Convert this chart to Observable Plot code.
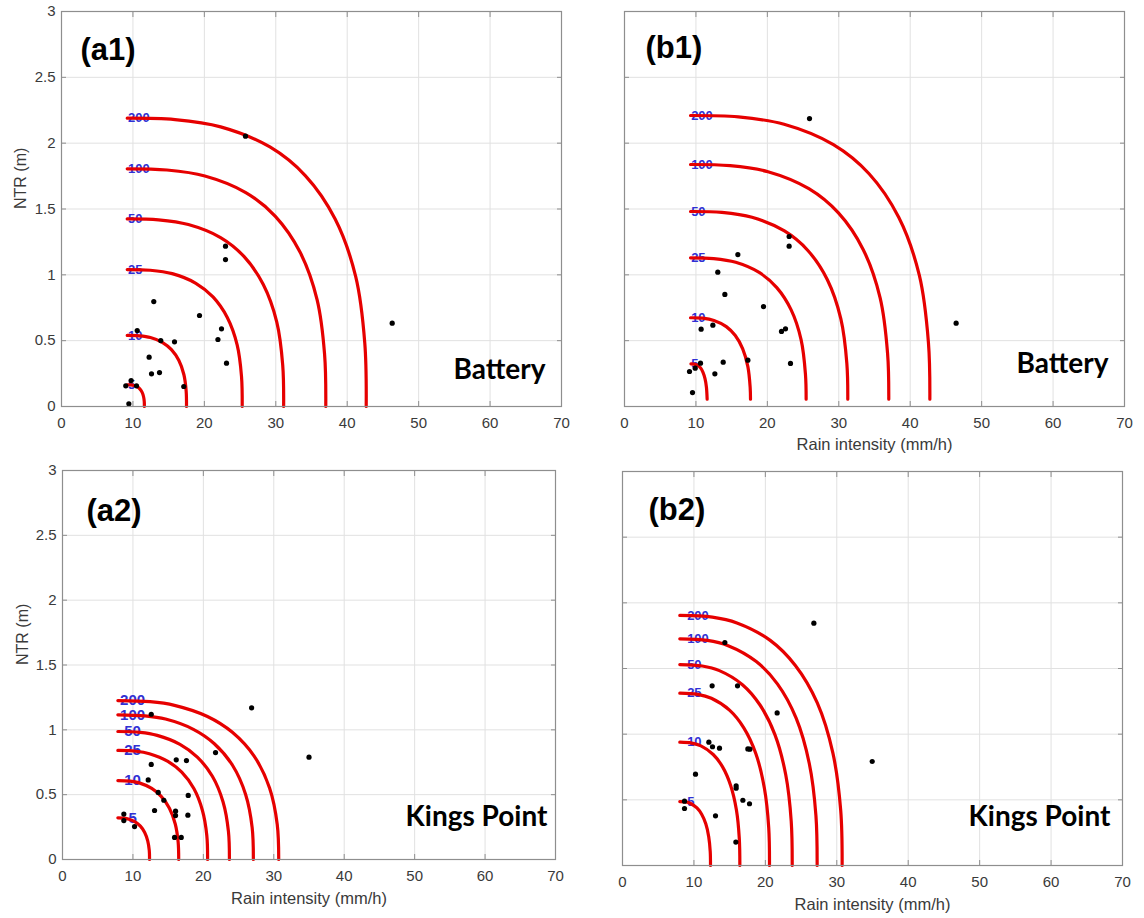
<!DOCTYPE html>
<html><head><meta charset="utf-8">
<script src="https://cdn.jsdelivr.net/npm/d3@7"></script>
<script src="https://cdn.jsdelivr.net/npm/@observablehq/plot@0.6"></script>
<style>
body{margin:0;background:#fff;}
#wrap{position:relative;width:1144px;height:918px;background:#fff;overflow:hidden;}
.p{position:absolute;}
</style></head><body><div id="wrap"></div>
<script>
// ---------- shared ticks / categories ----------
const xTicks = [0, 10, 20, 30, 40, 50, 60, 70];
const yTicks = [0, 0.5, 1, 1.5, 2, 2.5, 3];
const yTickLabels = ["0", "0.5", "1", "1.5", "2", "2.5", "3"];
const periods = ["5", "10", "25", "50", "100", "200"];
const xTitle = "Rain intensity (mm/h)";
const yTitle = "NTR (m)";

// ---------- (a1) Battery ----------
const a1CurveX = [
  [9.2, 9.68, 10.14, 10.63, 10.99, 11.29, 11.49, 11.59, 11.6],
  [9.2, 10.86, 12.45, 14.16, 15.39, 16.42, 17.13, 17.45, 17.5],
  [9.2, 12.42, 15.5, 18.81, 21.21, 23.21, 24.59, 25.2, 25.3],
  [9.2, 13.58, 17.76, 22.27, 25.54, 28.25, 30.14, 30.97, 31.1],
  [9.2, 14.76, 20.07, 25.8, 29.94, 33.39, 35.78, 36.83, 37.0],
  [9.2, 15.89, 22.28, 29.18, 34.16, 38.31, 41.19, 42.46, 42.66]
];
const a1CurveY = [
  [0.165, 0.164, 0.160, 0.149, 0.132, 0.107, 0.074, 0.036, 0],
  [0.54, 0.537, 0.524, 0.486, 0.432, 0.351, 0.243, 0.119, 0],
  [1.04, 1.035, 1.009, 0.936, 0.832, 0.676, 0.468, 0.229, 0],
  [1.425, 1.418, 1.382, 1.283, 1.14, 0.926, 0.641, 0.314, 0],
  [1.805, 1.796, 1.751, 1.625, 1.444, 1.173, 0.812, 0.397, 0],
  [2.19, 2.179, 2.124, 1.971, 1.752, 1.424, 0.986, 0.482, 0]
];
const a1DotX = [25.76, 22.96, 22.96, 12.92, 19.32, 10.6, 22.4, 21.9, 13.9, 15.82, 12.27, 23.1, 12.6, 13.72, 9.75, 9.0, 10.5, 17.12, 9.43, 46.3];
const a1DotY = [2.053, 1.218, 1.116, 0.797, 0.691, 0.577, 0.59, 0.509, 0.501, 0.491, 0.375, 0.329, 0.248, 0.258, 0.197, 0.157, 0.157, 0.152, 0.02, 0.633];

// ---------- (b1) Battery ----------
const b1CurveX = [
  [9.3, 9.75, 10.19, 10.66, 10.99, 11.27, 11.47, 11.57],
  [9.24, 10.92, 12.52, 14.25, 15.51, 16.55, 17.27, 17.59, 17.64],
  [9.24, 12.48, 15.57, 18.91, 21.32, 23.33, 24.72, 25.33, 25.43],
  [9.24, 13.64, 17.85, 22.39, 25.67, 28.40, 30.29, 31.13, 31.26],
  [9.24, 14.79, 20.09, 25.81, 29.95, 33.39, 35.78, 36.83, 37.0],
  [9.24, 15.94, 22.34, 29.25, 34.24, 38.39, 41.28, 42.55, 42.75]
];
const b1CurveY = [
  [0.324, 0.322, 0.314, 0.292, 0.259, 0.211, 0.146, 0.055],
  [0.674, 0.671, 0.654, 0.607, 0.539, 0.438, 0.303, 0.148, 0.055],
  [1.129, 1.123, 1.095, 1.016, 0.903, 0.734, 0.508, 0.248, 0.055],
  [1.481, 1.474, 1.437, 1.333, 1.185, 0.963, 0.666, 0.326, 0.055],
  [1.838, 1.829, 1.783, 1.654, 1.470, 1.195, 0.827, 0.404, 0.055],
  [2.21, 2.199, 2.144, 1.989, 1.768, 1.437, 0.995, 0.486, 0.055]
];
const b1DotX = [25.9, 23.05, 23.05, 15.87, 13.06, 14.05, 19.46, 12.37, 10.73, 22.54, 21.98, 17.27, 13.82, 10.64, 23.24, 9.9, 9.1, 12.65, 9.52, 46.43];
const b1DotY = [2.187, 1.291, 1.218, 1.154, 1.02, 0.851, 0.759, 0.618, 0.587, 0.59, 0.57, 0.352, 0.337, 0.329, 0.327, 0.291, 0.266, 0.248, 0.106, 0.633];

// ---------- (a2) Kings Point ----------
const a2CurveX = [
  [7.86, 8.76, 9.44, 10.37, 11.06, 11.67, 12.10, 12.32, 12.36],
  [7.86, 9.59, 10.90, 12.67, 14.01, 15.18, 16.01, 16.42, 16.5],
  [7.86, 10.41, 12.34, 14.96, 16.93, 18.65, 19.87, 20.49, 20.6],
  [7.86, 11.03, 13.44, 16.68, 19.14, 21.28, 22.80, 23.56, 23.7],
  [7.86, 11.71, 14.63, 18.58, 21.56, 24.16, 26.0, 26.93, 27.1],
  [7.86, 12.43, 15.90, 20.58, 24.12, 27.21, 29.40, 30.49, 30.7]
];
const a2CurveY = [
  [0.321, 0.319, 0.311, 0.289, 0.257, 0.209, 0.144, 0.071, 0],
  [0.609, 0.605, 0.591, 0.548, 0.487, 0.396, 0.274, 0.134, 0],
  [0.841, 0.835, 0.816, 0.757, 0.673, 0.547, 0.378, 0.185, 0],
  [0.987, 0.980, 0.957, 0.888, 0.790, 0.642, 0.444, 0.217, 0],
  [1.116, 1.108, 1.083, 1.004, 0.893, 0.725, 0.502, 0.246, 0],
  [1.226, 1.217, 1.189, 1.103, 0.981, 0.797, 0.552, 0.270, 0]
];
const a2DotX = [26.85, 12.6, 21.73, 16.15, 17.6, 12.6, 12.17, 13.59, 14.39, 17.85, 13.07, 16.05, 16.05, 17.8, 8.71, 8.71, 10.23, 15.91, 16.86, 35.0];
const a2DotY = [1.17, 1.12, 0.825, 0.769, 0.763, 0.733, 0.614, 0.517, 0.457, 0.494, 0.378, 0.373, 0.339, 0.342, 0.35, 0.30, 0.254, 0.17, 0.17, 0.789];

// ---------- (b2) Kings Point ----------
const b2CurveX = [
  [8.02, 8.88, 9.53, 10.42, 11.08, 11.66, 12.07, 12.28, 12.32],
  [8.02, 9.70, 10.98, 12.70, 14.01, 15.14, 15.95, 16.35, 16.43],
  [8.02, 10.53, 12.44, 15.02, 16.96, 18.66, 19.86, 20.47, 20.58],
  [8.02, 11.17, 13.56, 16.79, 19.23, 21.35, 22.86, 23.62, 23.76],
  [8.02, 11.87, 14.79, 18.73, 21.71, 24.31, 26.15, 27.08, 27.25],
  [8.02, 12.57, 16.02, 20.68, 24.20, 27.27, 29.45, 30.55, 30.75]
];
const b2CurveY = [
  [0.487, 0.484, 0.472, 0.438, 0.390, 0.317, 0.219, 0.107, 0],
  [0.939, 0.932, 0.911, 0.845, 0.751, 0.610, 0.423, 0.207, 0],
  [1.312, 1.303, 1.273, 1.181, 1.050, 0.853, 0.590, 0.289, 0],
  [1.53, 1.519, 1.484, 1.377, 1.224, 0.995, 0.689, 0.337, 0],
  [1.726, 1.714, 1.674, 1.553, 1.381, 1.122, 0.777, 0.380, 0],
  [1.904, 1.891, 1.847, 1.714, 1.523, 1.238, 0.857, 0.419, 0]
];
const b2DotX = [26.79, 14.33, 12.55, 16.1, 21.65, 12.09, 12.6, 13.58, 17.55, 17.83, 10.22, 15.91, 15.91, 16.85, 17.78, 8.68, 8.68, 13.02, 15.87, 34.96];
const b2DotY = [1.845, 1.698, 1.368, 1.368, 1.162, 0.939, 0.904, 0.893, 0.888, 0.886, 0.695, 0.607, 0.589, 0.497, 0.47, 0.49, 0.434, 0.378, 0.178, 0.792];

// ---------- drawing ----------
const RED = "#e60000", BLUE = "#3030d4", GRID = "#e1e1e1", AX = "#8e8e8e", TXT = "#3a3a3a";
const FONT = "'Liberation Sans', Arial, sans-serif";

function panel(o) {
  const curves = periods.flatMap((p, i) => o.cx[i].map((x, j) => ({period: p, x, y: o.cy[i][j]})));
  const labels = periods.map((p, i) => ({period: p, x: o.labelX, y: o.cy[i][0]}));
  const dots = o.dx.map((x, i) => ({x, y: o.dy[i]}));
  const marks = [
    Plot.gridX(xTicks, {stroke: GRID, strokeOpacity: 1}),
    Plot.gridY(yTicks, {stroke: GRID, strokeOpacity: 1}),
    Plot.text(labels, {x: "x", y: "y", text: "period", textAnchor: o.labelAnchor, lineAnchor: "middle",
      fill: BLUE, fontWeight: "bold", fontSize: o.labelSize, fontFamily: FONT}),
    Plot.line(curves, {x: "x", y: "y", z: "period", stroke: RED, strokeWidth: 3.2, curve: "catmull-rom"}),
    Plot.dot(dots, {x: "x", y: "y", r: 2.6, fill: "#000", stroke: "none"}),
    Plot.axisX(xTicks, {anchor: "bottom", tickSize: -5, tickPadding: 16, stroke: AX, fill: TXT, fontSize: 15, label: null, tickFormat: d => String(d)}),
    Plot.axisX(xTicks, {anchor: "top", tickSize: -5, tickPadding: 0, stroke: AX, label: null, tickFormat: () => ""}),
    Plot.axisY(yTicks, {anchor: "left", tickSize: -5, tickPadding: 11, stroke: AX, fill: TXT, fontSize: 15, label: null,
      tickFormat: o.showY ? (d => yTickLabels[yTicks.indexOf(d)]) : () => ""}),
    Plot.axisY(yTicks, {anchor: "right", tickSize: -5, tickPadding: 0, stroke: AX, label: null, tickFormat: () => ""}),
    Plot.frame({stroke: AX, strokeWidth: 1.2}),
    Plot.text([o.tag], {text: d => d, frameAnchor: "top-left", dx: o.tagDx, dy: o.tagDy, textAnchor: "start", lineAnchor: "middle",
      fontSize: 31, fontWeight: "bold", fontFamily: FONT, fill: "#000"}),
    Plot.text([o.site], {text: d => d, frameAnchor: "bottom-right", dx: o.siteDx, dy: o.siteDy, textAnchor: "end", lineAnchor: "bottom",
      fontSize: 28, fontWeight: "bold", fontFamily: "Lato, 'Open Sans', sans-serif", fill: "#000"})
  ];
  if (o.showY) marks.push(Plot.text([yTitle], {text: d => d, frameAnchor: "left", dx: o.yTitleDx, rotate: -90, fontSize: 16, fill: TXT, fontFamily: FONT}));
  if (o.showXTitle) marks.push(Plot.text([xTitle], {text: d => d, frameAnchor: "bottom", dy: o.xTitleDy, fontSize: 16.5, fill: TXT, fontFamily: FONT}));
  const svg = Plot.plot({
    width: o.width, height: o.height,
    marginLeft: o.ml, marginRight: o.mr, marginTop: o.mt, marginBottom: o.mb,
    x: {domain: [0, 70], label: null, axis: null},
    y: {domain: [0, 3], label: null, axis: null},
    style: {fontFamily: FONT, background: "transparent", overflow: "visible", color: TXT},
    marks
  });
  const div = document.createElement("div");
  div.className = "p";
  div.style.left = o.left + "px";
  div.style.top = o.top + "px";
  div.appendChild(svg);
  document.getElementById("wrap").appendChild(div);
}

panel({left: 0, top: 0, width: 572, height: 440, ml: 61, mr: 11, mt: 11, mb: 34,
  cx: a1CurveX, cy: a1CurveY, dx: a1DotX, dy: a1DotY, labelX: 9.3, labelAnchor: "start", labelSize: 13,
  tag: "(a1)", tagDx: 19, tagDy: 39, site: "Battery", siteDx: -16, siteDy: -28,
  showY: true, yTitleDx: -41, showXTitle: false});

panel({left: 580, top: 0, width: 564, height: 460, ml: 44, mr: 20, mt: 11, mb: 54,
  cx: b1CurveX, cy: b1CurveY, dx: b1DotX, dy: b1DotY, labelX: 9.33, labelAnchor: "start", labelSize: 13,
  tag: "(b1)", tagDx: 21, tagDy: 37, site: "Battery", siteDx: -16, siteDy: -34,
  showY: false, showXTitle: true, xTitleDy: 43});

panel({left: 0, top: 460, width: 572, height: 458, ml: 62, mr: 17, mt: 10, mb: 59,
  cx: a2CurveX, cy: a2CurveY, dx: a2DotX, dy: a2DotY, labelX: 9.95, labelAnchor: "middle", labelSize: 15,
  tag: "(a2)", tagDx: 24, tagDy: 41, site: "Kings Point", siteDx: -8, siteDy: -34,
  showY: true, yTitleDx: -40, showXTitle: true, xTitleDy: 44});

panel({left: 580, top: 460, width: 564, height: 458, ml: 42, mr: 22, mt: 11, mb: 53,
  cx: b2CurveX, cy: b2CurveY, dx: b2DotX, dy: b2DotY, labelX: 9.05, labelAnchor: "start", labelSize: 13,
  tag: "(b2)", tagDx: 26, tagDy: 39, site: "Kings Point", siteDx: -12, siteDy: -40,
  showY: false, showXTitle: true, xTitleDy: 44});
</script></body></html>
